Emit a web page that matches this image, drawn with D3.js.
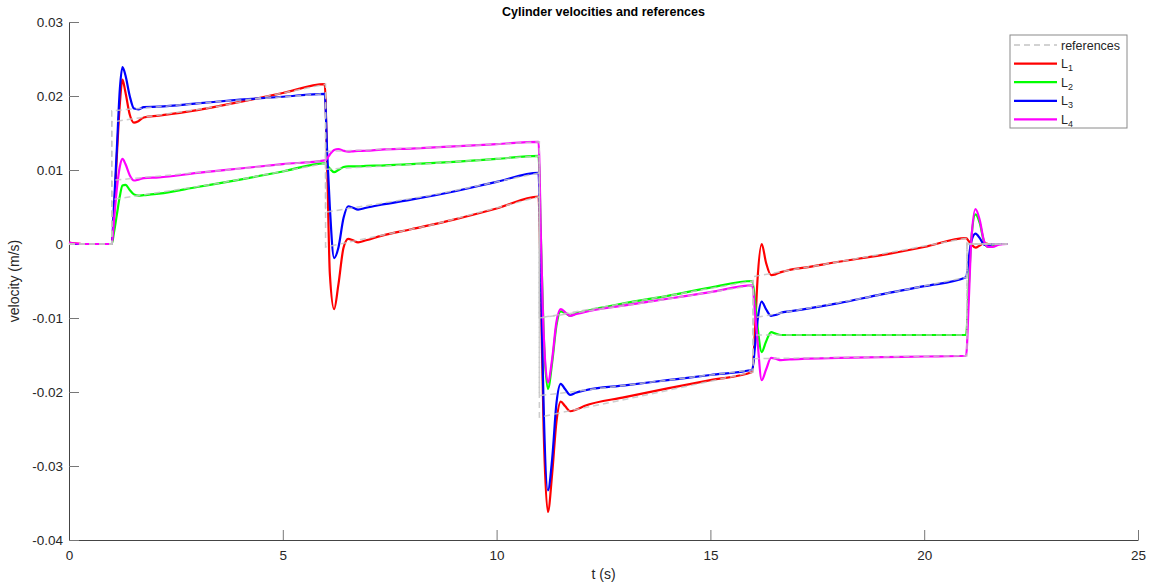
<!DOCTYPE html>
<html>
<head>
<meta charset="utf-8">
<script src="https://cdn.jsdelivr.net/npm/d3@7"></script>
<style>
  body { margin: 0; background: #fff; }
  text { font-family: "Liberation Sans", Arial, Helvetica, sans-serif; }
</style>
</head>
<body>
<div id="chart"></div>
<script>
// shared sample times (s)
const tGrid = [
  0, 0.3, 1.0,
  1.05, 1.12, 1.19, 1.25, 1.32, 1.42, 1.52, 1.62, 1.75, 2.1, 3, 4, 5, 5.98,
  6.04, 6.1, 6.2, 6.3, 6.42, 6.53, 6.64, 6.76, 6.95, 7.3, 8, 9, 10, 10.98,
  11.04, 11.1, 11.2, 11.3, 11.4, 11.5, 11.6, 11.72, 11.85, 12.05, 13, 14, 15, 15.98,
  16.04, 16.1, 16.2, 16.3, 16.42, 16.52, 16.65, 16.85, 17.2, 18, 19, 20, 20.98,
  21.04, 21.1, 21.2, 21.3, 21.4, 21.5, 21.6, 21.75, 21.95
];

const velL1 = [
  0.0002, 0, 0,
  0.004, 0.012, 0.019, 0.0222, 0.0205, 0.0175, 0.0164, 0.0166, 0.0171, 0.01735, 0.0181, 0.0192, 0.0204, 0.0216,
  0.010, -0.004, -0.0088, -0.0055, -0.0005, 0.0007, 0.0005, 0.00023, 0.0005, 0.0011, 0.0020, 0.0033, 0.0048, 0.0064,
  -0.008, -0.025, -0.0362, -0.031, -0.024, -0.0213, -0.0219, -0.0226, -0.0224, -0.0219, -0.0207, -0.0195, -0.0184, -0.0173,
  -0.012, -0.005, 0.0, -0.0025, -0.0042, -0.0041, -0.0038, -0.0035, -0.0032, -0.0024, -0.0015, -0.0004, 0.0008,
  0.0004, 0.0, -0.0005, -0.0002, 0.0001, 0.0, 0.0, 0.0, 0.0
];
const velL2 = [
  0, 0, 0,
  0.0015, 0.004, 0.0065, 0.0079, 0.0080, 0.0073, 0.0067, 0.00653, 0.0066, 0.0068, 0.0077, 0.0087, 0.0098, 0.0109,
  0.0106, 0.0102, 0.0097, 0.0100, 0.0104, 0.0105, 0.0105, 0.0105, 0.01055, 0.0106, 0.0108, 0.0111, 0.0115, 0.0119,
  0.0, -0.012, -0.0196, -0.016, -0.011, -0.0091, -0.0093, -0.0097, -0.0094, -0.0091, -0.0080, -0.0070, -0.0059, -0.0050,
  -0.0075, -0.011, -0.0146, -0.0132, -0.0119, -0.0121, -0.0123, -0.0123, -0.0123, -0.0123, -0.0123, -0.0123, -0.0123,
  -0.006, 0.0005, 0.0040, 0.0028, 0.0003, -0.0004, -0.0003, 0.0, 0.0
];
const velL3 = [
  0, 0, 0,
  0.005, 0.013, 0.021, 0.0239, 0.0228, 0.0200, 0.0183, 0.0182, 0.0185, 0.01856, 0.0190, 0.0195, 0.0199, 0.0203,
  0.012, 0.005, -0.0019, -0.0005, 0.0035, 0.0051, 0.0049, 0.00464, 0.0049, 0.0053, 0.0060, 0.0071, 0.0084, 0.0096,
  -0.006, -0.022, -0.0333, -0.029, -0.0215, -0.0189, -0.0196, -0.0204, -0.0201, -0.0198, -0.0191, -0.0184, -0.0177, -0.0170,
  -0.014, -0.0105, -0.0078, -0.0088, -0.0097, -0.0096, -0.0093, -0.0091, -0.0088, -0.0080, -0.0068, -0.0057, -0.0045,
  -0.002, 0.0003, 0.0014, 0.0008, -0.0001, -0.0002, 0.0, 0.0, 0.0
];
const velL4 = [
  0.0002, 0, 0,
  0.003, 0.0075, 0.0105, 0.0115, 0.0108, 0.0093, 0.00858, 0.0087, 0.0089, 0.0090, 0.0096, 0.0102, 0.0108, 0.0113,
  0.0116, 0.0121, 0.0127, 0.01284, 0.0126, 0.01248, 0.01252, 0.01258, 0.0126, 0.01275, 0.0129, 0.0132, 0.0135, 0.0138,
  0.0, -0.012, -0.0187, -0.0155, -0.0105, -0.0088, -0.0092, -0.0097, -0.0095, -0.0092, -0.0083, -0.0074, -0.0065, -0.0056,
  -0.009, -0.013, -0.0184, -0.0170, -0.0154, -0.0155, -0.0157, -0.0156, -0.0155, -0.0154, -0.0153, -0.0152, -0.0151,
  -0.008, 0.0003, 0.0047, 0.0032, 0.0004, -0.0004, -0.0004, -0.0001, 0.0
];

// reference trajectories (jumps at the step times)
const refTimes = [0, 1, 1, 3.5, 6, 6, 8.5, 11, 11, 13.5, 16, 16, 18.5, 21, 21, 21.95];
const refL1 = [0, 0, 0.0165, 0.0186, 0.0216, -0.0004, 0.0026, 0.0064, -0.0234, -0.0204, -0.0173, -0.0044, -0.0019, 0.0008, 0, 0];
const refL2 = [0, 0, 0.0060, 0.0082, 0.0109, 0.0101, 0.0109, 0.0119, -0.0100, -0.0075, -0.0050, -0.0123, -0.0123, -0.0123, 0, 0];
const refL3 = [0, 0, 0.0180, 0.01925, 0.0203, 0.0043, 0.0066, 0.0096, -0.0205, -0.01875, -0.0170, -0.0100, -0.0074, -0.0045, 0, 0];
const refL4 = [0, 0, 0.0086, 0.0099, 0.0113, 0.0125, 0.01305, 0.0138, -0.0100, -0.0079, -0.0056, -0.0155, -0.0153, -0.0151, 0, 0];

const seriesNames = ['1', '2', '3', '4'];
const seriesColors = ['#ff0000', '#00ff00', '#0000ff', '#ff00ff'];
const xTicks = [0, 5, 10, 15, 20, 25];
const yTicks = [-0.04, -0.03, -0.02, -0.01, 0, 0.01, 0.02, 0.03];

const width = 1155, height = 587;
const margin = { top: 22, right: 17, bottom: 47, left: 69 };
const graphWidth = width - margin.left - margin.right;
const graphHeight = height - margin.top - margin.bottom;

const svg = d3.select('#chart').append('svg').attr('width', width).attr('height', height);
const graph = svg.append('g').attr('transform', `translate(${margin.left}, ${margin.top})`);

const xScale = d3.scaleLinear().domain([0, 25]).range([0, graphWidth]);
const yScale = d3.scaleLinear().domain([-0.04, 0.03]).range([graphHeight, 0]);

// axes (ticks pointing inward, MATLAB style)
const xAxis = graph.append('g')
  .attr('transform', `translate(0, ${graphHeight})`)
  .call(d3.axisBottom(xScale).tickValues(xTicks).tickSizeInner(-10).tickSizeOuter(0).tickPadding(10).tickFormat(d3.format('d')));
const yAxis = graph.append('g')
  .call(d3.axisLeft(yScale).tickValues(yTicks).tickSizeInner(-10).tickSizeOuter(0).tickPadding(6)
    .tickFormat(d => d === 0 ? '0' : d.toFixed(2)));
[xAxis, yAxis].forEach(ax => {
  ax.select('.domain').attr('stroke', '#444').attr('stroke-width', 1);
  ax.selectAll('.tick line').attr('stroke', '#777');
  ax.selectAll('.tick text').attr('fill', '#262626').style('font-size', '13.5px');
});

const line = d3.line().x(d => xScale(d[0])).y(d => yScale(d[1])).curve(d3.curveMonotoneX);
const refLine = d3.line().x(d => xScale(d[0])).y(d => yScale(d[1]));

const velocities = [velL1, velL2, velL3, velL4];
const refs = [refL1, refL2, refL3, refL4];

graph.append('g').selectAll('path')
  .data(velocities)
  .enter().append('path')
  .attr('d', v => line(tGrid.map((t, i) => [t, v[i]])))
  .attr('fill', 'none')
  .attr('stroke', (d, i) => seriesColors[i])
  .attr('stroke-width', 2.2)
  .attr('stroke-linejoin', 'round');

graph.append('g').selectAll('path')
  .data(refs)
  .enter().append('path')
  .attr('d', r => refLine(refTimes.map((t, i) => [t, r[i]])))
  .attr('fill', 'none')
  .attr('stroke', '#c4c4c4')
  .attr('stroke-opacity', 0.85)
  .attr('stroke-width', 1.5)
  .attr('stroke-dasharray', '6,4');

// labels
svg.append('text')
  .attr('x', margin.left + graphWidth / 2).attr('y', 16)
  .attr('text-anchor', 'middle').style('font-size', '12.5px').style('font-weight', 'bold').attr('fill', '#000')
  .text('Cylinder velocities and references');
svg.append('text')
  .attr('x', margin.left + graphWidth / 2).attr('y', 579)
  .attr('text-anchor', 'middle').style('font-size', '14px').attr('fill', '#262626')
  .text('t (s)');
svg.append('text')
  .attr('transform', `translate(19, ${margin.top + graphHeight / 2}) rotate(-90)`)
  .attr('text-anchor', 'middle').style('font-size', '14px').attr('fill', '#262626')
  .text('velocity (m/s)');

// legend
const legend = svg.append('g').attr('transform', 'translate(1010, 35)');
legend.append('rect').attr('width', 117).attr('height', 93).attr('fill', '#fff').attr('stroke', '#8a8a8a');
const legendItems = [{ label: 'references', color: '#c4c4c4', dash: '6,4' }]
  .concat(seriesNames.map((n, i) => ({ label: n, color: seriesColors[i], dash: null })));
legendItems.forEach((item, i) => {
  const y = 10 + i * 18.6;
  legend.append('line')
    .attr('x1', 4).attr('x2', 47).attr('y1', y).attr('y2', y)
    .attr('stroke', item.color).attr('stroke-width', item.dash ? 1.5 : 2.2)
    .attr('stroke-dasharray', item.dash);
  const txt = legend.append('text').attr('x', 51).attr('y', y + 4.5)
    .style('font-size', '12.5px').attr('fill', '#262626');
  if (item.dash) {
    txt.text(item.label);
  } else {
    txt.append('tspan').text('L');
    txt.append('tspan').attr('dy', 3).style('font-size', '9px').text(item.label);
  }
});
</script>
</body>
</html>
